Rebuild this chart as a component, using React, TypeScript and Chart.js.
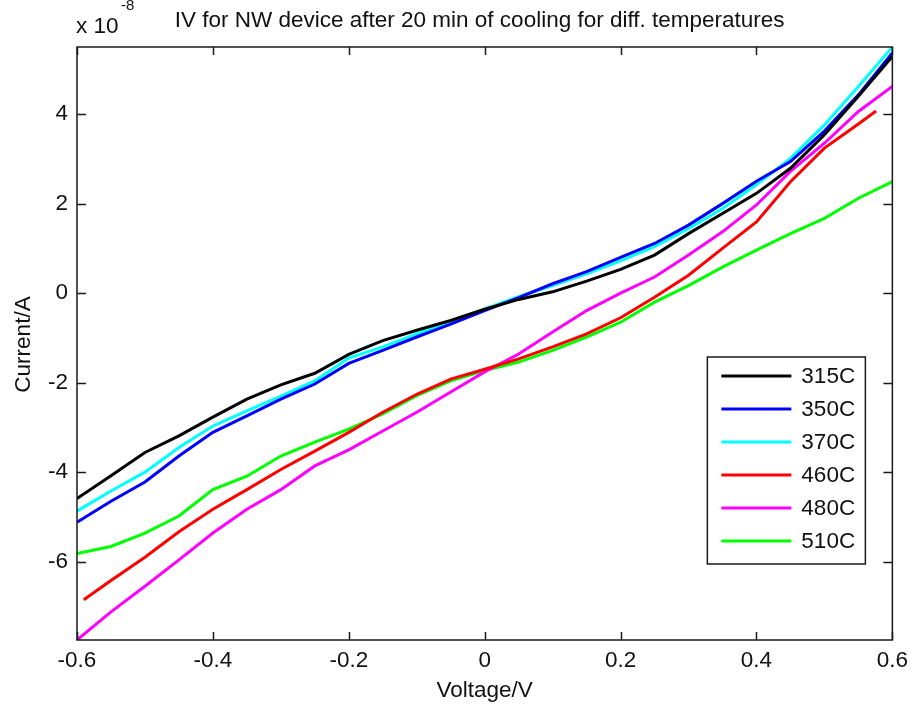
import React, { useEffect, useRef } from "react";
import { Chart, registerables } from "chart.js";

Chart.register(...registerables);

const FONT = '"Liberation Sans", Arial, Helvetica, sans-serif';

const chartTitle = "IV for NW device after 20 min of cooling for diff. temperatures";
const exponentBase = "x 10";
const exponentPower = "-8";
const xAxisTitle = "Voltage/V";
const yAxisTitle = "Current/A";

const xTicks = [-0.6, -0.4, -0.2, 0, 0.2, 0.4, 0.6];
const yTicks = [-6, -4, -2, 0, 2, 4];
const xMin = -0.6;
const xMax = 0.6;
const yMin = -7.75;
const yMax = 5.5;

const voltage = [
  -0.6, -0.55, -0.5, -0.45, -0.4, -0.35, -0.3, -0.25, -0.2, -0.15, -0.1, -0.05, 0,
  0.05, 0.1, 0.15, 0.2, 0.25, 0.3, 0.35, 0.4, 0.45, 0.5, 0.55, 0.6,
];
const voltage460 = [
  -0.59, -0.55, -0.5, -0.45, -0.4, -0.35, -0.3, -0.25, -0.2, -0.15, -0.1, -0.05, 0,
  0.05, 0.1, 0.15, 0.2, 0.25, 0.3, 0.35, 0.4, 0.45, 0.5, 0.55, 0.576,
];

const current315 = [
  -4.59, -4.08, -3.56, -3.19, -2.77, -2.37, -2.05, -1.79, -1.37, -1.06, -0.83, -0.61, -0.36,
  -0.14, 0.03, 0.27, 0.53, 0.85, 1.33, 1.78, 2.23, 2.79, 3.54, 4.4, 5.29,
];
const current350 = [
  -5.12, -4.65, -4.22, -3.64, -3.11, -2.74, -2.37, -2.03, -1.57, -1.28, -0.98, -0.69, -0.39,
  -0.1, 0.21, 0.48, 0.8, 1.11, 1.52, 2.0, 2.5, 2.94, 3.62, 4.43, 5.37,
];
const current370 = [
  -4.87, -4.42, -4.0, -3.45, -2.97, -2.63, -2.3, -1.96, -1.45, -1.2, -0.91, -0.64, -0.35,
  -0.08, 0.17, 0.43, 0.72, 1.04, 1.44, 1.89, 2.42, 3.01, 3.76, 4.62, 5.5,
];
const current460 = [
  -6.85, -6.42, -5.9, -5.33, -4.83, -4.39, -3.94, -3.53, -3.11, -2.66, -2.26, -1.92, -1.7,
  -1.47, -1.2, -0.91, -0.55, -0.09, 0.4, 1.0, 1.59, 2.49, 3.24, 3.78, 4.07,
];
const current480 = [
  -7.75, -7.12, -6.55, -5.96, -5.36, -4.83, -4.39, -3.86, -3.5, -3.08, -2.66, -2.21, -1.76,
  -1.36, -0.87, -0.39, 0.0, 0.36, 0.85, 1.37, 1.97, 2.72, 3.35, 4.06, 4.62,
];
const current510 = [
  -5.82, -5.66, -5.36, -4.98, -4.39, -4.09, -3.64, -3.33, -3.04, -2.7, -2.29, -1.96, -1.73,
  -1.54, -1.28, -0.98, -0.65, -0.2, 0.17, 0.58, 0.96, 1.33, 1.67, 2.12, 2.49,
];

const seriesLabels = ["315C", "350C", "370C", "460C", "480C", "510C"];
const seriesColors = ["#000000", "#0000ff", "#00ffff", "#ff0000", "#ff00ff", "#00ff00"];
const seriesX = [voltage, voltage, voltage, voltage460, voltage, voltage];
const seriesY = [current315, current350, current370, current460, current480, current510];

const TEXT = "#111111";

const decorPlugin = {
  id: "decor",
  afterDraw(chart: any) {
    const { ctx, chartArea: a, scales } = chart;
    ctx.save();
    // axes box
    ctx.strokeStyle = "#1a1a1a";
    ctx.lineWidth = 1.5;
    ctx.strokeRect(a.left, a.top, a.right - a.left, a.bottom - a.top);
    // inward ticks
    ctx.beginPath();
    for (const v of xTicks) {
      const px = Math.round(scales.x.getPixelForValue(v)) + 0.5;
      ctx.moveTo(px, a.bottom);
      ctx.lineTo(px, a.bottom - 8);
      ctx.moveTo(px, a.top);
      ctx.lineTo(px, a.top + 8);
    }
    for (const v of yTicks) {
      const py = Math.round(scales.y.getPixelForValue(v)) + 0.5;
      ctx.moveTo(a.left, py);
      ctx.lineTo(a.left + 9, py);
      ctx.moveTo(a.right, py);
      ctx.lineTo(a.right - 9, py);
    }
    ctx.stroke();

    // title
    ctx.fillStyle = TEXT;
    ctx.font = `22.5px ${FONT}`;
    ctx.textAlign = "center";
    ctx.textBaseline = "alphabetic";
    ctx.fillText(chartTitle, (a.left + a.right) / 2 - 5, 27);

    // exponent
    ctx.textAlign = "left";
    ctx.fillText(exponentBase, a.left - 1, 33);
    ctx.font = `15px ${FONT}`;
    ctx.fillText(exponentPower, a.left + 44, 10);

    // axis titles
    ctx.font = `22.5px ${FONT}`;
    ctx.textAlign = "center";
    ctx.fillText(xAxisTitle, (a.left + a.right) / 2, 697);
    ctx.save();
    ctx.translate(30, (a.top + a.bottom) / 2 + 1);
    ctx.rotate(-Math.PI / 2);
    ctx.fillText(yAxisTitle, 0, 0);
    ctx.restore();

    // legend
    const lx = a.right - 185;
    const ly = a.top + 310;
    const lw = 158;
    const lh = 207;
    ctx.fillStyle = "#ffffff";
    ctx.fillRect(lx, ly, lw, lh);
    ctx.strokeStyle = "#1a1a1a";
    ctx.lineWidth = 1.5;
    ctx.strokeRect(lx, ly, lw, lh);
    ctx.font = `22.5px ${FONT}`;
    ctx.textAlign = "left";
    ctx.textBaseline = "middle";
    seriesLabels.forEach((label, i) => {
      const y = ly + 19 + i * 33;
      ctx.strokeStyle = seriesColors[i];
      ctx.lineWidth = 3;
      ctx.beginPath();
      ctx.moveTo(lx + 14, y);
      ctx.lineTo(lx + 84, y);
      ctx.stroke();
      ctx.fillStyle = TEXT;
      ctx.fillText(label, lx + 94, y + 1);
    });
    ctx.restore();
  },
};

export default function App() {
  const canvasRef = useRef<HTMLCanvasElement | null>(null);

  useEffect(() => {
    const canvas = canvasRef.current;
    if (!canvas) return;
    const datasets = seriesLabels.map((label, i) => ({
      label,
      data: seriesX[i].map((x, j) => ({ x, y: seriesY[i][j] })),
      borderColor: seriesColors[i],
      backgroundColor: seriesColors[i],
      borderWidth: 3,
      pointRadius: 0,
      tension: 0,
      fill: false,
    }));
    const chart = new Chart(canvas, {
      type: "line",
      data: { datasets },
      options: {
        animation: false,
        responsive: false,
        devicePixelRatio: 1,
        layout: { padding: { top: 47, right: 17, left: 0, bottom: 0 } },
        plugins: {
          legend: { display: false },
          title: { display: false },
          tooltip: { enabled: false },
        },
        scales: {
          x: {
            type: "linear",
            min: xMin,
            max: xMax,
            afterBuildTicks: (s: any) => {
              s.ticks = xTicks.map((v) => ({ value: v }));
            },
            afterFit: (s: any) => {
              s.height = 67;
            },
            grid: { display: false, drawTicks: false },
            border: { display: false },
            ticks: {
              color: TEXT,
              font: { family: FONT, size: 22.5 },
              padding: 7,
              maxRotation: 0,
              autoSkip: false,
              callback: (v: any) => String(Math.round(Number(v) * 10) / 10),
            },
          },
          y: {
            type: "linear",
            min: yMin,
            max: yMax,
            afterBuildTicks: (s: any) => {
              s.ticks = yTicks.map((v) => ({ value: v }));
            },
            afterFit: (s: any) => {
              s.width = 77;
            },
            grid: { display: false, drawTicks: false },
            border: { display: false },
            ticks: {
              color: TEXT,
              font: { family: FONT, size: 22.5 },
              padding: 9,
              autoSkip: false,
              callback: (v: any) => String(v),
            },
          },
        },
      },
      plugins: [decorPlugin],
    });
    return () => chart.destroy();
  }, []);

  return (
    <div style={{ position: "absolute", left: 0, top: 0, width: 915, height: 707, background: "#fff" }}>
      <canvas ref={canvasRef} width={915} height={707} style={{ display: "block", width: 915, height: 707 }} />
    </div>
  );
}
